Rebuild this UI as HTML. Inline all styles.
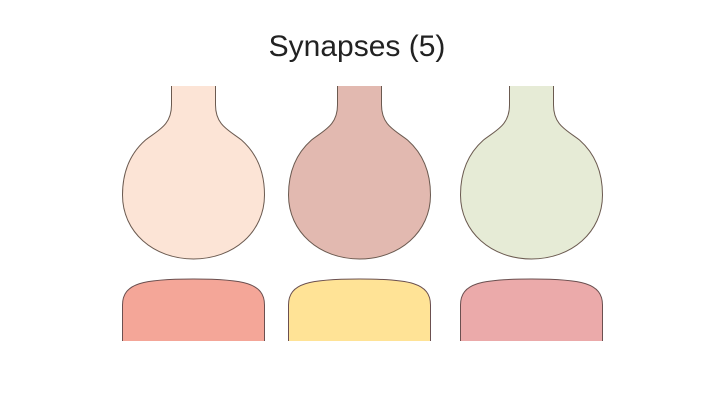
<!DOCTYPE html>
<html><head><meta charset="utf-8"><style>
html,body{margin:0;padding:0;background:#fff;width:720px;height:405px;overflow:hidden}
</style></head><body>
<svg width="720" height="405" viewBox="0 0 720 405" xmlns="http://www.w3.org/2000/svg">
<text x="357" y="56" text-anchor="middle" font-family="Liberation Sans, sans-serif" font-size="30" fill="#222">Synapses (5)</text>
<g id="shapes"></g>
</svg>
<script>
const centers=[193.5,359.5,531.5];
const tops=['#FCE4D6','#E2B9B0','#E6EBD6'];
const bottoms=['#F4A698','#FFE396','#EBAAAA'];
const g=document.getElementById('shapes');
const ns='http://www.w3.org/2000/svg';
centers.forEach((c,i)=>{
  const p=document.createElementNS(ns,'path');
  const d=`M${c-22},86 L${c-22},105 C${c-22},125 ${c-35},130 ${c-48},140 C${c-65},155 ${c-71},175 ${c-71},195 C${c-71},232 ${c-40},259 ${c},259 C${c+40},259 ${c+71},232 ${c+71},195 C${c+71},175 ${c+65},155 ${c+48},140 C${c+35},130 ${c+22},125 ${c+22},105 L${c+22},86`;
  p.setAttribute('d',d);p.setAttribute('fill',tops[i]);p.setAttribute('stroke','#6b5a50');p.setAttribute('stroke-width','1');
  
  
  g.appendChild(p);
  const b=document.createElementNS(ns,'path');
  b.setAttribute('d',`M${c-71},341 L${c-71},305 C${c-71},283 ${c-50},279 ${c},279 C${c+50},279 ${c+71},283 ${c+71},305 L${c+71},341`);
  b.setAttribute('fill',bottoms[i]);b.setAttribute('stroke','#6b5050');b.setAttribute('stroke-width','1');
  
  
  g.appendChild(b);
});
</script>
</body></html>
